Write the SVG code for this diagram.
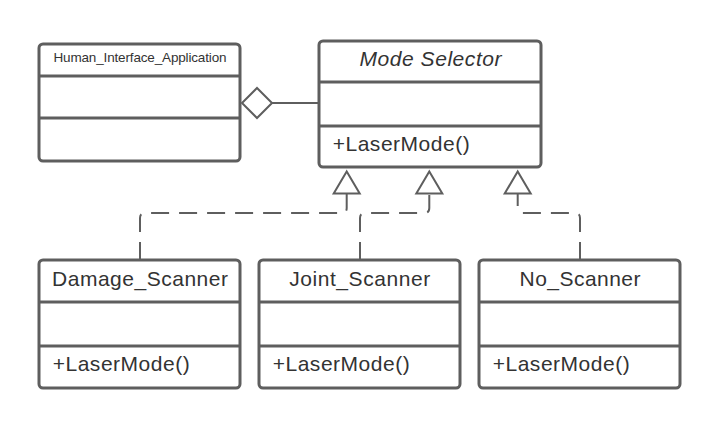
<svg xmlns="http://www.w3.org/2000/svg" width="720" height="428" viewBox="0 0 720 428">
<defs>
<style>
.box{fill:#ffffff;stroke:#5e5e5e;stroke-width:3}
.div{stroke:#5e5e5e;stroke-width:3}
.t{font-family:"Liberation Sans",Arial,sans-serif;fill:#333333;font-size:21px}
.tc{text-anchor:middle}
.it{font-style:italic}
.sm{font-size:13.5px}
.con{fill:none;stroke:#5e5e5e;stroke-width:2}
.dash{stroke-dasharray:18 10}
</style>
<marker id="tri" markerUnits="userSpaceOnUse" markerWidth="30" markerHeight="30" refX="0" refY="0" orient="auto" overflow="visible" viewBox="-2 -15 26 30">
<polygon points="0,-13 22,0 0,13" fill="#ffffff" stroke="#5e5e5e" stroke-width="2" stroke-linejoin="miter"/>
</marker>
<marker id="dia" markerUnits="userSpaceOnUse" markerWidth="34" markerHeight="34" refX="0" refY="0" orient="auto" overflow="visible" viewBox="-2 -17 34 34">
<polygon points="0,0 15,-15 30,0 15,15" fill="#ffffff" stroke="#5e5e5e" stroke-width="2"/>
</marker>
</defs>
<rect width="720" height="428" fill="#ffffff"/>

<g id="connectors">
<path class="con" d="M319,103 H272" marker-end="url(#dia)"/>
<path class="con dash" d="M140,260 V218 Q140,213 145,213 H341.7 Q346.7,213 346.7,208 V193.5" marker-end="url(#tri)"/>
<path class="con dash" d="M360,260 V218 Q360,213 365,213 H424.3 Q429.3,213 429.3,208 V193.5" marker-end="url(#tri)"/>
<path class="con dash" d="M580,260 V218 Q580,213 575,213 H522.7 Q517.7,213 517.7,208 V193.5" marker-end="url(#tri)"/>
</g>

<g id="human_interface_application">
<rect class="box" x="39" y="44" width="201" height="117" rx="4"/>
<line class="div" x1="39" y1="76" x2="240" y2="76"/>
<line class="div" x1="39" y1="118" x2="240" y2="118"/>
<text class="t sm tc" x="140" y="62" textLength="173">Human_Interface_Application</text>
</g>

<g id="mode_selector">
<rect class="box" x="319" y="41" width="222" height="126" rx="4"/>
<line class="div" x1="319" y1="82" x2="541" y2="82"/>
<line class="div" x1="319" y1="126" x2="541" y2="126"/>
<text class="t it tc" x="430.5" y="65.5" textLength="142">Mode Selector</text>
<text class="t" x="332.7" y="150.7" textLength="137">+LaserMode()</text>
</g>

<g id="damage_scanner">
<rect class="box" x="39" y="260" width="201" height="128" rx="4"/>
<line class="div" x1="39" y1="302" x2="240" y2="302"/>
<line class="div" x1="39" y1="346" x2="240" y2="346"/>
<text class="t tc" x="140" y="286" textLength="176">Damage_Scanner</text>
<text class="t" x="52.7" y="370.7" textLength="137">+LaserMode()</text>
</g>

<g id="joint_scanner">
<rect class="box" x="259" y="260" width="201" height="128" rx="4"/>
<line class="div" x1="259" y1="302" x2="460" y2="302"/>
<line class="div" x1="259" y1="346" x2="460" y2="346"/>
<text class="t tc" x="359.7" y="286" textLength="141">Joint_Scanner</text>
<text class="t" x="272.7" y="370.7" textLength="137">+LaserMode()</text>
</g>

<g id="no_scanner">
<rect class="box" x="479" y="260" width="201" height="128" rx="4"/>
<line class="div" x1="479" y1="302" x2="680" y2="302"/>
<line class="div" x1="479" y1="346" x2="680" y2="346"/>
<text class="t tc" x="580" y="286" textLength="121">No_Scanner</text>
<text class="t" x="492.7" y="370.7" textLength="137">+LaserMode()</text>
</g>
</svg>
